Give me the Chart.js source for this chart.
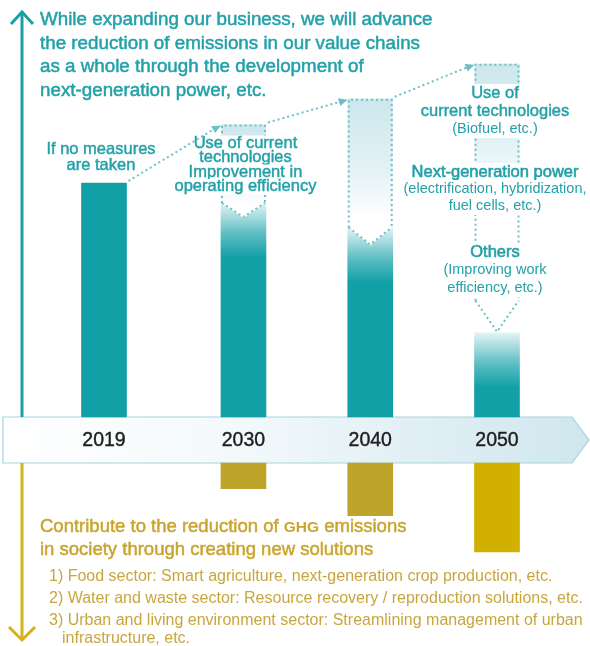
<!DOCTYPE html>
<html>
<head>
<meta charset="utf-8">
<script src="https://cdn.jsdelivr.net/npm/chart.js@4/dist/chart.umd.min.js"></script>
<style>
  html, body { margin: 0; padding: 0; background: #fff; }
  #wrap { width: 590px; height: 646px; }
</style>
</head>
<body>
<div id="wrap"><canvas id="ghgChart" width="590" height="646"></canvas></div>
<script>
// values (emissions index, 2019 = 100)
const years = [2019, 2030, 2040, 2050];
const yearLabels = ['2019', '2030', '2040', '2050'];
const emissionsNoMeasures = [100, 125, 136, 151];
const emissionsWithMeasures = [100, 91.5, 81, 36];
const contribution = [0, 11, 22.5, 38];

// layout / style
const PX_PER_UNIT = 2.34;
const BAND_TOP = 417, BAND_BOTTOM = 463, H = 646, W = 590;
const BAR_W = 45;
const NOTCH = [0, 15, 18, -32];   // V of each dotted arrow (px)
const FADE = [0, 80, 120, 135];   // length of the pale fill fade (px)
const TEAL = '#10a0a6';
const TEXT_TEAL = '#22a1a8';
const DOT = '#6cc0c8';
const FONT = '"Liberation Sans", Arial, sans-serif';

function arrowGeom(chart, i) {
  const x = chart.scales.x.getPixelForValue(years[i]);
  const top = chart.scales.y.getPixelForValue(emissionsNoMeasures[i]);
  const barTop = chart.scales.y.getPixelForValue(emissionsWithMeasures[i]);
  let shoulder, tip;
  if (NOTCH[i] >= 0) { shoulder = barTop; tip = barTop + NOTCH[i]; }
  else { shoulder = barTop + NOTCH[i]; tip = barTop; }
  return { cx: x, l: x - BAR_W / 2, r: x + BAR_W / 2, top, shoulder, tip };
}

function dotted(ctx) {
  ctx.strokeStyle = DOT;
  ctx.lineWidth = 2;
  ctx.setLineDash([2, 3]);
}

function text(ctx, str, x, y, size, color, opts = {}) {
  ctx.font = (opts.weight || '') + ' ' + size + 'px ' + FONT;
  ctx.textAlign = opts.align || 'center';
  ctx.textBaseline = 'middle';
  const w = ctx.measureText(str).width;
  if (opts.bg) {
    ctx.fillStyle = '#fff';
    const left = ctx.textAlign === 'center' ? x - w / 2 - 3 : x - 3;
    ctx.fillRect(left, y - opts.bg / 2, w + 6, opts.bg);
  }
  ctx.fillStyle = color;
  ctx.fillText(str, x, y);
  if (opts.heavy) {
    ctx.strokeStyle = color;
    ctx.lineWidth = opts.heavy;
    ctx.setLineDash([]);
    ctx.strokeText(str, x, y);
  }
  return w;
}

const infographic = {
  id: 'infographic',
  beforeDatasetsDraw(chart) {
    const ctx = chart.ctx;
    ctx.save();
    // timeline band
    const band = ctx.createLinearGradient(0, 0, W, 0);
    band.addColorStop(0, '#ffffff');
    band.addColorStop(0.4, '#f3f9fb');
    band.addColorStop(1, '#cfe6ee');
    ctx.beginPath();
    ctx.moveTo(3, BAND_TOP); ctx.lineTo(572, BAND_TOP); ctx.lineTo(589, (BAND_TOP + BAND_BOTTOM) / 2);
    ctx.lineTo(572, BAND_BOTTOM); ctx.lineTo(3, BAND_BOTTOM); ctx.closePath();
    ctx.fillStyle = band; ctx.fill();
    ctx.strokeStyle = '#a6d3dc'; ctx.lineWidth = 1.2; ctx.stroke();

    // pale "if no measures" arrows
    for (let i = 1; i < years.length; i++) {
      const g = arrowGeom(chart, i);
      const grad = ctx.createLinearGradient(0, g.top, 0, g.top + FADE[i]);
      grad.addColorStop(0, '#cde7ed');
      grad.addColorStop(0.6, '#e3f2f5');
      grad.addColorStop(1, '#ffffff');
      ctx.fillStyle = grad;
      ctx.beginPath();
      ctx.moveTo(g.l, g.top); ctx.lineTo(g.r, g.top); ctx.lineTo(g.r, g.shoulder);
      if (NOTCH[i] < 0) ctx.lineTo(g.cx, g.tip);
      ctx.lineTo(g.l, g.shoulder); ctx.closePath();
      ctx.fill();
    }
    ctx.restore();
  },
  afterDatasetsDraw(chart) {
    const ctx = chart.ctx;
    const xs = chart.scales.x, ys = chart.scales.y;
    ctx.save();

    // dotted outlines + notches
    for (let i = 1; i < years.length; i++) {
      const g = arrowGeom(chart, i);
      if (NOTCH[i] > 0) {
        ctx.fillStyle = '#fff';
        ctx.beginPath();
        ctx.moveTo(g.l, g.shoulder - 0.5); ctx.lineTo(g.cx, g.tip); ctx.lineTo(g.r, g.shoulder - 0.5);
        ctx.closePath(); ctx.fill();
      }
      dotted(ctx);
      ctx.beginPath();
      ctx.moveTo(g.l + 1, g.shoulder); ctx.lineTo(g.l + 1, g.top + 1);
      ctx.lineTo(g.r - 1, g.top + 1); ctx.lineTo(g.r - 1, g.shoulder);
      ctx.moveTo(g.l + 1, g.shoulder); ctx.lineTo(g.cx, g.tip - 1); ctx.lineTo(g.r - 1, g.shoulder);
      ctx.stroke();
    }
    ctx.setLineDash([]);

    // texts in the middle
    const c0 = xs.getPixelForValue(years[0]);
    text(ctx, 'If no measures', c0 - 3, 149, 16.5, TEXT_TEAL, { heavy: 0.45 });
    text(ctx, 'are taken', c0 - 3, 165, 16.5, TEXT_TEAL, { heavy: 0.45 });

    const c1 = xs.getPixelForValue(years[1]) + 2;
    [['Use of current', 143], ['technologies', 157.5], ['Improvement in', 172], ['operating efficiency', 186.5]]
      .forEach(([s, y]) => text(ctx, s, c1, y, 16.5, TEXT_TEAL, { bg: 15, heavy: 0.45 }));

    const c3 = xs.getPixelForValue(years[3]) - 2;
    [['Use of', 93, 16.5, 0.45], ['current technologies', 111, 16.5, 0.45], ['(Biofuel, etc.)', 129, 14.5, 0],
     ['Next-generation power', 172, 16.5, 0.6], ['(electrification, hybridization,', 189, 14.5, 0], ['fuel cells, etc.)', 206, 14.5, 0],
     ['Others', 252, 16.5, 0.6], ['(Improving work', 270, 14.5, 0], ['efficiency, etc.)', 288, 14.5, 0]]
      .forEach(([s, y, f, hv]) => text(ctx, s, c3, y, f, TEXT_TEAL, { bg: 18, heavy: hv }));

    // dotted connectors with arrow heads
    for (let i = 1; i < years.length; i++) {
      const g = arrowGeom(chart, i);
      let sx, sy;
      if (i === 1) { sx = xs.getPixelForValue(years[0]) + BAR_W / 2; sy = ys.getPixelForValue(emissionsNoMeasures[0]); }
      else { const p = arrowGeom(chart, i - 1); sx = p.r; sy = p.top; }
      const ex = g.l - 1, ey = g.top + 1;
      const ang = Math.atan2(ey - sy, ex - sx);
      dotted(ctx);
      ctx.beginPath();
      ctx.moveTo(sx + 2, sy - 2);
      ctx.lineTo(ex - 6 * Math.cos(ang), ey - 6 * Math.sin(ang));
      ctx.stroke();
      ctx.setLineDash([]);
      ctx.fillStyle = DOT;
      ctx.beginPath();
      ctx.moveTo(ex + 1, ey);
      ctx.lineTo(ex - 8 * Math.cos(ang) - 4 * Math.sin(ang), ey - 8 * Math.sin(ang) + 4 * Math.cos(ang));
      ctx.lineTo(ex - 8 * Math.cos(ang) + 4 * Math.sin(ang), ey - 8 * Math.sin(ang) - 4 * Math.cos(ang));
      ctx.closePath(); ctx.fill();
    }

    // vertical arrows on the left
    ctx.lineWidth = 3; ctx.lineJoin = 'miter'; ctx.lineCap = 'butt';
    ctx.strokeStyle = '#1a9fa6';
    ctx.beginPath(); ctx.moveTo(22, 13); ctx.lineTo(22, BAND_TOP); ctx.stroke();
    ctx.beginPath(); ctx.moveTo(11, 24); ctx.lineTo(22, 12); ctx.lineTo(33, 24); ctx.stroke();
    ctx.strokeStyle = '#d5b219';
    ctx.beginPath(); ctx.moveTo(22, BAND_BOTTOM); ctx.lineTo(22, 639); ctx.stroke();
    ctx.beginPath(); ctx.moveTo(9, 627); ctx.lineTo(22, 640); ctx.lineTo(35, 627); ctx.stroke();

    // year labels on the band
    yearLabels.forEach((s, i) => text(ctx, s, xs.getPixelForValue(years[i]), 441, 19.5, '#1e1e1e', { heavy: 0.4 }));

    // top heading
    ['While expanding our business, we will advance',
     'the reduction of emissions in our value chains',
     'as a whole through the development of',
     'next-generation power, etc.'].forEach((s, k) => text(ctx, s, 40, 20 + k * 23.5, 18.8, TEXT_TEAL, { align: 'left', heavy: 0.5 }));

    // bottom heading
    const GOLD_T = '#c9a530';
    let x = 40;
    x += text(ctx, 'Contribute to the reduction of ', x, 527, 18.5, GOLD_T, { align: 'left', heavy: 0.5 });
    x += text(ctx, 'GHG', x, 528, 15.5, GOLD_T, { align: 'left', weight: 'bold' });
    text(ctx, ' emissions', x, 527, 18.5, GOLD_T, { align: 'left', heavy: 0.5 });
    text(ctx, 'in society through creating new solutions', 40, 550, 18.5, GOLD_T, { align: 'left', heavy: 0.5 });

    const GOLD_L = '#c8a63e';
    text(ctx, '1) Food sector: Smart agriculture, next-generation crop production, etc.', 49, 577, 16, GOLD_L, { align: 'left' });
    text(ctx, '2) Water and waste sector: Resource recovery / reproduction solutions, etc.', 49, 599, 16, GOLD_L, { align: 'left' });
    text(ctx, '3) Urban and living environment sector: Streamlining management of urban', 49, 621, 16, GOLD_L, { align: 'left' });
    text(ctx, 'infrastructure, etc.', 62, 639, 16, GOLD_L, { align: 'left' });

    ctx.restore();
  }
};

const X_PX_PER_YEAR = 393 / 31;
const xMin = 2019 - 104 / X_PX_PER_YEAR;
const xMax = xMin + W / X_PX_PER_YEAR;

new Chart(document.getElementById('ghgChart'), {
  type: 'bar',
  data: {
    datasets: [{
      label: 'Emissions in value chain',
      data: years.map((yr, i) => ({ x: yr, y: [0, emissionsWithMeasures[i]] })),
      yAxisID: 'y',
      grouped: false,
      barThickness: BAR_W,
      borderWidth: 0,
      backgroundColor: (c) => {
        if (c.type !== 'data' || c.dataIndex === 0) return TEAL;
        const top = c.chart.scales.y.getPixelForValue(emissionsWithMeasures[c.dataIndex]);
        const g = c.chart.ctx.createLinearGradient(0, top, 0, top + 55);
        g.addColorStop(0, '#e3f3f5');
        g.addColorStop(0.55, '#5fbfc4');
        g.addColorStop(1, TEAL);
        return g;
      }
    }, {
      label: 'Contribution in society',
      data: years.map((yr, i) => ({ x: yr, y: contribution[i] > 0 ? [0, contribution[i]] : null })),
      yAxisID: 'y2',
      grouped: false,
      barThickness: BAR_W,
      borderWidth: 0,
      backgroundColor: ['#bea42b', '#bea42b', '#bea42b', '#d2b000']
    }]
  },
  options: {
    responsive: false,
    animation: false,
    devicePixelRatio: 1,
    layout: { padding: 0 },
    scales: {
      x: { type: 'linear', min: xMin, max: xMax, offset: false, display: false },
      y: { min: -(H - BAND_TOP) / PX_PER_UNIT, max: BAND_TOP / PX_PER_UNIT, display: false },
      y2: { reverse: true, min: -BAND_BOTTOM / PX_PER_UNIT, max: (H - BAND_BOTTOM) / PX_PER_UNIT, display: false }
    },
    plugins: { legend: { display: false }, tooltip: { enabled: false } }
  },
  plugins: [infographic]
});
</script>
</body>
</html>
